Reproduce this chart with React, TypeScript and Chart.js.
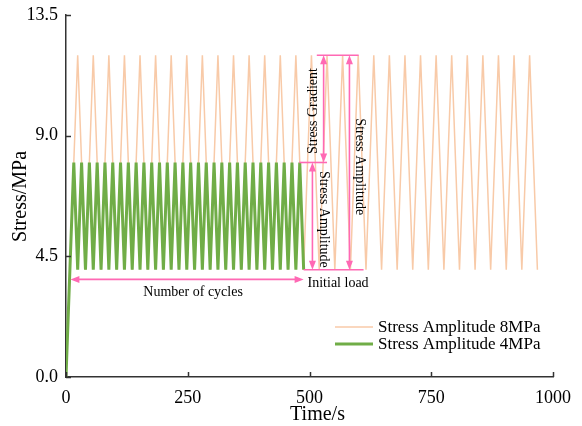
import React, { useEffect, useRef } from "react";
import { Chart, registerables } from "chart.js";

Chart.register(...registerables);

// ---------- data ----------
const ORANGE_LABEL = "Stress Amplitude 8MPa";
const GREEN_LABEL = "Stress Amplitude 4MPa";

const ORANGE_TIME = [
  0, 8, 24, 40, 56, 72, 88, 104, 120, 136, 152, 168, 184, 200, 216, 232, 248, 264, 280, 296, 312,
  328, 344, 360, 376, 392, 408, 424, 440, 456, 472, 488, 504, 520, 536, 552, 568, 584, 600, 616,
  632, 648, 664, 680, 696, 712, 728, 744, 760, 776, 792, 808, 824, 840, 856, 872, 888, 904, 920,
  936, 952, 968,
];
const ORANGE_STRESS = [
  0, 4, 12, 4, 12, 4, 12, 4, 12, 4, 12, 4, 12, 4, 12, 4, 12, 4, 12, 4, 12, 4, 12, 4, 12, 4, 12, 4,
  12, 4, 12, 4, 12, 4, 12, 4, 12, 4, 12, 4, 12, 4, 12, 4, 12, 4, 12, 4, 12, 4, 12, 4, 12, 4, 12, 4,
  12, 4, 12, 4, 12, 4,
];

const GREEN_TIME = [
  0, 8, 16, 24, 32, 40, 48, 56, 64, 72, 80, 88, 96, 104, 112, 120, 128, 136, 144, 152, 160, 168,
  176, 184, 192, 200, 208, 216, 224, 232, 240, 248, 256, 264, 272, 280, 288, 296, 304, 312, 320,
  328, 336, 344, 352, 360, 368, 376, 384, 392, 400, 408, 416, 424, 432, 440, 448, 456, 464, 472,
  480, 488,
];
const GREEN_STRESS = [
  0, 4, 8, 4, 8, 4, 8, 4, 8, 4, 8, 4, 8, 4, 8, 4, 8, 4, 8, 4, 8, 4, 8, 4, 8, 4, 8, 4, 8, 4, 8, 4,
  8, 4, 8, 4, 8, 4, 8, 4, 8, 4, 8, 4, 8, 4, 8, 4, 8, 4, 8, 4, 8, 4, 8, 4, 8, 4, 8, 4, 8, 4,
];

const X_TICKS = [0, 250, 500, 750, 1000];
const Y_TICKS = [0, 4.5, 9, 13.5];
const X_TITLE = "Time/s";
const Y_TITLE = "Stress/MPa";

// annotation geometry in data coordinates [t1, s1, t2, s2]
const ANNOT_LINES = [
  [515, 12, 601, 12],
  [479, 8, 536, 8],
  [488, 4, 611, 4],
];
const ANNOT_ARROWS = [
  [529, 12, 529, 8],
  [506, 8, 506, 4],
  [582, 12, 582, 4],
  [9, 3.64, 488, 3.64],
];
const ANNOT_TEXTS = [
  { text: "Stress Gradient", t: 508, s: 9.92, rot: -90, align: "center" },
  { text: "Stress Amplitude", t: 529, s: 5.88, rot: 90, align: "center" },
  { text: "Stress Amplitude", t: 604, s: 7.84, rot: 90, align: "center" },
  { text: "Initial load", t: 496, s: 3.49, rot: 0, align: "left" },
  { text: "Number of cycles", t: 261, s: 3.17, rot: 0, align: "center" },
];

// ---------- styles ----------
const FONT = '"Liberation Serif", "Times New Roman", serif';
const PINK = "#FF69B4";
const ORANGE = "#F8CAA8";
const GREEN = "#70AD47";
const AXIS = "#333333";

function drawArrow(ctx: CanvasRenderingContext2D, x1: number, y1: number, x2: number, y2: number) {
  const L = 9;
  const W = 3.5;
  const dx = x2 - x1;
  const dy = y2 - y1;
  const len = Math.hypot(dx, dy);
  const ux = dx / len;
  const uy = dy / len;
  ctx.beginPath();
  ctx.moveTo(x1 + ux * (L - 1), y1 + uy * (L - 1));
  ctx.lineTo(x2 - ux * (L - 1), y2 - uy * (L - 1));
  ctx.stroke();
  const head = (tx: number, ty: number, dirx: number, diry: number) => {
    ctx.beginPath();
    ctx.moveTo(tx, ty);
    ctx.lineTo(tx - dirx * L - diry * W, ty - diry * L + dirx * W);
    ctx.lineTo(tx - dirx * L + diry * W, ty - diry * L - dirx * W);
    ctx.closePath();
    ctx.fill();
  };
  head(x2, y2, ux, uy);
  head(x1, y1, -ux, -uy);
}

const overlayPlugin = {
  id: "overlay",
  afterDatasetsDraw(chart: any) {
    const ctx: CanvasRenderingContext2D = chart.ctx;
    const xs = chart.scales.x;
    const ys = chart.scales.y;
    const px = (t: number) => xs.getPixelForValue(t);
    const py = (s: number) => ys.getPixelForValue(s);
    ctx.save();
    ctx.strokeStyle = PINK;
    ctx.fillStyle = PINK;
    ctx.lineWidth = 1.6;
    for (const [t1, s1, t2, s2] of ANNOT_LINES) {
      ctx.beginPath();
      ctx.moveTo(px(t1), py(s1));
      ctx.lineTo(px(t2), py(s2));
      ctx.stroke();
    }
    for (const [t1, s1, t2, s2] of ANNOT_ARROWS) {
      drawArrow(ctx, px(t1), py(s1), px(t2), py(s2));
    }
    ctx.fillStyle = "#000";
    ctx.font = `14px ${FONT}`;
    for (const a of ANNOT_TEXTS) {
      ctx.save();
      ctx.translate(px(a.t), py(a.s));
      ctx.rotate((a.rot * Math.PI) / 180);
      ctx.textAlign = a.align as CanvasTextAlign;
      ctx.textBaseline = "middle";
      ctx.fillText(a.text, 0, 0);
      ctx.restore();
    }
    ctx.restore();
  },
  afterDraw(chart: any) {
    const ctx: CanvasRenderingContext2D = chart.ctx;
    const xs = chart.scales.x;
    const ys = chart.scales.y;
    const area = chart.chartArea;
    ctx.save();
    // inward tick marks
    ctx.strokeStyle = AXIS;
    ctx.lineWidth = 1.5;
    for (const v of X_TICKS) {
      const x = Math.round(xs.getPixelForValue(v)) + 0.5;
      ctx.beginPath();
      ctx.moveTo(x, area.bottom);
      ctx.lineTo(x, area.bottom - 5);
      ctx.stroke();
    }
    for (const v of Y_TICKS) {
      const y = Math.round(ys.getPixelForValue(v)) + 0.5;
      ctx.beginPath();
      ctx.moveTo(area.left, y);
      ctx.lineTo(area.left + 5, y);
      ctx.stroke();
    }
    // axis titles
    ctx.fillStyle = "#000";
    ctx.font = `20px ${FONT}`;
    ctx.textAlign = "center";
    ctx.textBaseline = "alphabetic";
    ctx.fillText(X_TITLE, 317.5, 420);
    ctx.save();
    ctx.translate(25.5, 196.5);
    ctx.rotate(-Math.PI / 2);
    ctx.fillText(Y_TITLE, 0, 0);
    ctx.restore();
    // legend
    ctx.font = `17px ${FONT}`;
    ctx.textAlign = "left";
    ctx.textBaseline = "middle";
    const rows = [327, 344];
    chart.data.datasets.forEach((d: any, i: number) => {
      const y = rows[i];
      ctx.strokeStyle = d.borderColor;
      ctx.lineWidth = d.borderWidth;
      ctx.beginPath();
      ctx.moveTo(335, y);
      ctx.lineTo(373, y);
      ctx.stroke();
      ctx.fillStyle = "#000";
      ctx.fillText(d.label, 378, y + 1);
    });
    ctx.restore();
  },
};

export default function App() {
  const ref = useRef<HTMLCanvasElement | null>(null);
  useEffect(() => {
    document.body.style.margin = "0";
    const canvas = ref.current;
    if (!canvas) return;
    const orange = ORANGE_TIME.map((t, i) => ({ x: t, y: ORANGE_STRESS[i] }));
    const green = GREEN_TIME.map((t, i) => ({ x: t, y: GREEN_STRESS[i] }));
    const chart = new Chart(canvas, {
      type: "line",
      data: {
        datasets: [
          {
            label: ORANGE_LABEL,
            data: orange,
            borderColor: ORANGE,
            borderWidth: 1.5,
            pointRadius: 0,
            tension: 0,
            order: 1,
          },
          {
            label: GREEN_LABEL,
            data: green,
            borderColor: GREEN,
            borderWidth: 3,
            pointRadius: 0,
            tension: 0,
            order: 0,
          },
        ],
      },
      options: {
        responsive: false,
        animation: false,
        events: [],
        layout: { padding: { top: 15, right: 29, left: 0, bottom: 0 } },
        plugins: {
          legend: { display: false },
          tooltip: { enabled: false },
          title: { display: false },
        },
        scales: {
          x: {
            type: "linear",
            min: 0,
            max: 1000,
            afterBuildTicks: (s: any) => {
              s.ticks = X_TICKS.map((v) => ({ value: v }));
            },
            grid: { display: false, drawTicks: false },
            border: { display: true, color: AXIS, width: 1.5 },
            ticks: {
              font: { family: FONT, size: 18 },
              color: "#000",
              padding: 10,
              maxRotation: 0,
              autoSkip: false,
              callback: (v: any) => String(v),
            },
            afterFit: (s: any) => {
              s.height = 49;
              s.paddingLeft = 0;
              s.paddingRight = 0;
            },
          },
          y: {
            type: "linear",
            min: 0,
            max: 13.5,
            afterBuildTicks: (s: any) => {
              s.ticks = Y_TICKS.map((v) => ({ value: v }));
            },
            grid: { display: false, drawTicks: false },
            border: { display: true, color: AXIS, width: 1.5 },
            ticks: {
              font: { family: FONT, size: 18 },
              color: "#000",
              padding: 8,
              autoSkip: false,
              callback: (v: any) => Number(v).toFixed(1),
            },
            afterFit: (s: any) => {
              s.width = 66;
              s.paddingTop = 0;
              s.paddingBottom = 0;
            },
          },
        },
      },
      plugins: [overlayPlugin],
    } as any);
    return () => chart.destroy();
  }, []);
  return <canvas ref={ref} width={582} height={426} style={{ display: "block" }} />;
}
